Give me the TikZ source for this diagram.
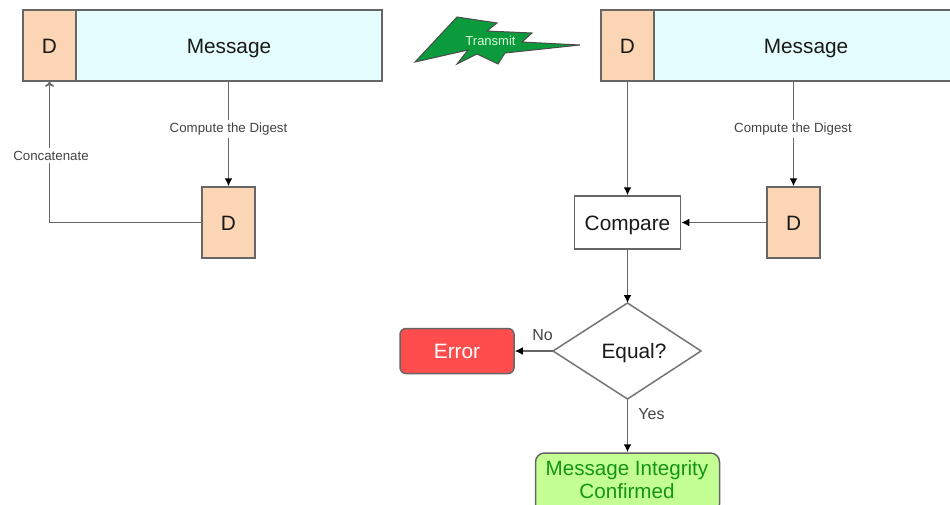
\documentclass[tikz,border=0pt]{standalone}
\usepackage{fontspec}
\setmainfont{Liberation Sans}
\usetikzlibrary{arrows.meta}
\definecolor{peach}{HTML}{FCD5B4}
\definecolor{paleblue}{HTML}{E6FDFD}
\definecolor{edge}{HTML}{666666}
\definecolor{bolt}{HTML}{0B9A3C}
\definecolor{errred}{HTML}{FF4D4D}
\definecolor{okgreen}{HTML}{C4FF94}
\definecolor{okink}{HTML}{149414}
\definecolor{lbl}{HTML}{444444}
\tikzset{
  x=1pt,y=-1pt,
  bigtext/.style={font=\fontsize{20.8}{23}\selectfont,text=black!90},
  box/.style={draw=edge,line width=1.5pt,inner sep=0pt,bigtext,text height=15pt,text depth=0pt},
  digest/.style={box,fill=peach,minimum width=53pt,minimum height=71pt},
  body/.style={box,fill=paleblue,minimum height=71pt},
  wire/.style={draw=edge,line width=1.7pt},
  arrowed/.style={wire,-{Latex[black,length=8pt,width=8pt]}},
  openarrow/.style={wire,-{To[length=5pt,width=9pt]}},
  edgelabel/.style={fill=white,inner sep=2.5pt,text=lbl,font=\fontsize{13.3}{15}\selectfont},
  branch/.style={text=lbl,inner sep=0pt,font=\fontsize{16}{18}\selectfont},
}
\begin{document}
\begin{tikzpicture}
\useasboundingbox (0,0) rectangle (950,504);
\clip (0,0) rectangle (950,504);
\fill[white] (0,0) rectangle (950,504);

% left group
\node[digest] (dL) at (49.5,45.5) {D};
\node[body,minimum width=306pt] (mL) at (229,45.5) {Message};
\node[digest] (dL2) at (228.5,222.5) {D};

% bolt
\path[draw=black!70,fill=bolt,line width=1pt]
  (415,62) -- (457,17) -- (497,23) -- (487,31) -- (532,33) -- (522,42) -- (580,45)
  -- (505,53) -- (498,64) -- (477,54) -- (457,64) -- (468,50) -- cycle;
\node[text=white!85!green,inner sep=0pt,font=\fontsize{13}{15}\selectfont] (tx) at (490.5,40.5) {Transmit};

% right group
\node[digest] (dR) at (627.5,45.5) {D};
\node[body,minimum width=304pt] (mR) at (806,45.5) {Message};
\node[digest] (dR2) at (793.5,222.5) {D};
\node[box,fill=white,minimum width=106pt,minimum height=53pt] (cmp) at (627.5,222.5) {Compare};
\path[draw=edge!90,line width=1.5pt,fill=white] (553,351) coordinate (eqW) -- (627.5,303) coordinate (eqN)
  -- (701,351) coordinate (eqE) -- (627.5,399) coordinate (eqS) -- cycle;
\node[inner sep=0pt,bigtext,text height=15pt,text depth=0pt] (eq) at (634,351) {Equal?};
\node[box,fill=errred,rounded corners=6pt,text=white,minimum width=114pt,minimum height=45pt] (err) at (457,351) {Error};
\node[draw=edge,line width=1.5pt,inner sep=0pt,font=\fontsize{20.6}{23}\selectfont,fill=okgreen,rounded corners=9pt,text=okink,align=center,minimum width=184pt,minimum height=60pt] (ok) at (627.5,483) {};
\node[inner sep=0pt,font=\fontsize{20.6}{23}\selectfont,text=okink,align=center] (oktext) at (627,479.5) {Message Integrity\\Confirmed};

% connectors, left
\draw[arrowed] (dL2.north |- mL.south) -- (dL2.north);
\node[edgelabel] (lc1) at (228.5,129) {Compute the Digest};
\draw[openarrow] (dL2.west) -| (dL.south);
\node[edgelabel] (lc2) at (51,155.5) {Concatenate};

% connectors, right
\draw[arrowed] (dR2.north |- mR.south) -- (dR2.north);
\node[edgelabel] (lc3) at (793,129) {Compute the Digest};
\draw[arrowed] (dR.south) -- (cmp.north);
\draw[arrowed] (dR2.west) -- (cmp.east);
\draw[arrowed] (cmp.south) -- (eqN);
\draw[arrowed] (eqW) -- (err.east);
\draw[arrowed] (eqS) -- (ok.north);
\node[branch] (no) at (542.5,335) {No};
\node[branch] (yes) at (651.5,414.5) {Yes};
\end{tikzpicture}
\end{document}
